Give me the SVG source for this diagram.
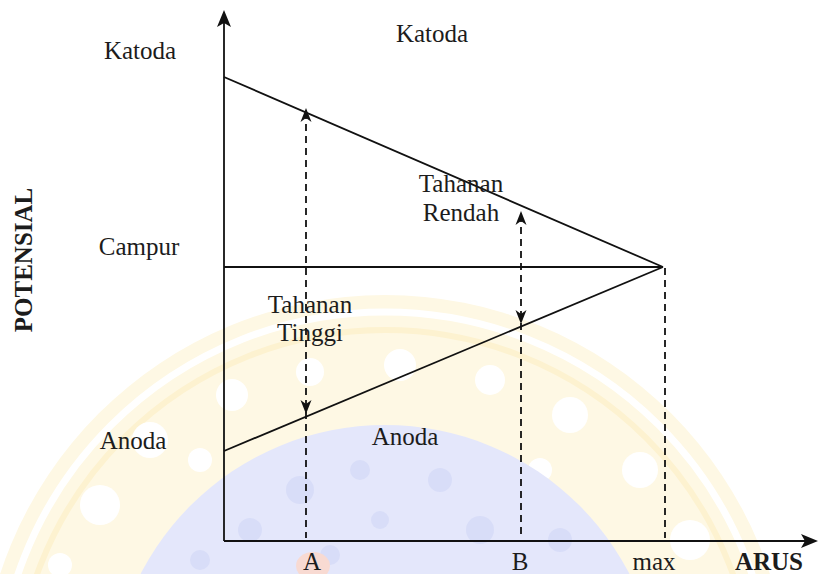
<svg xmlns="http://www.w3.org/2000/svg" width="820" height="574" viewBox="0 0 820 574">
<style>
.t{font-family:"Liberation Serif","Times New Roman",serif;font-size:25px;fill:#1c1c1c}
.b{font-weight:bold}
.ln{stroke:#111;stroke-width:1.8;fill:none}
.ds{stroke:#111;stroke-width:1.8;fill:none;stroke-dasharray:7 5}
.ah{fill:#111}
</style>
<defs>
<path id="ahd" d="M0,0 L-5.5,-14 L0,-10 L5.5,-14 Z"/>
<path id="axh" d="M0,0 L-7,-17 L0,-13 L7,-17 Z"/>
<clipPath id="clip"><rect width="820" height="574"/></clipPath>
</defs>
<rect width="820" height="574" fill="#fff"/>
<g id="watermark" clip-path="url(#clip)">
<circle cx="385" cy="700" r="405" fill="#fef8e4"/>
<circle cx="385" cy="700" r="388" fill="none" stroke="#fff" stroke-width="7"/>
<circle cx="385" cy="700" r="370" fill="none" stroke="#fdf2d0" stroke-width="6"/>
<g fill="#fff">
<circle cx="100" cy="505" r="20"/><circle cx="150" cy="440" r="18"/><circle cx="232" cy="395" r="16"/>
<circle cx="310" cy="372" r="14"/><circle cx="400" cy="365" r="16"/><circle cx="490" cy="380" r="15"/>
<circle cx="570" cy="415" r="18"/><circle cx="640" cy="470" r="18"/><circle cx="690" cy="540" r="20"/>
<circle cx="60" cy="565" r="12"/><circle cx="200" cy="460" r="12"/><circle cx="540" cy="470" r="12"/>
</g>
<circle cx="385" cy="700" r="275" fill="#e4e7fb"/>
<g fill="#d8ddf8">
<circle cx="300" cy="490" r="14"/><circle cx="360" cy="470" r="10"/><circle cx="440" cy="480" r="12"/>
<circle cx="250" cy="530" r="12"/><circle cx="480" cy="530" r="14"/><circle cx="380" cy="520" r="9"/>
<circle cx="560" cy="540" r="12"/><circle cx="200" cy="560" r="10"/><circle cx="330" cy="555" r="10"/>
</g>
<ellipse cx="313" cy="566" rx="17" ry="14" fill="#f8dad2"/>
</g>
<g id="connectors">
<path class="ln" d="M224,541 V16"/>
<use href="#axh" class="ah" transform="translate(224,10) rotate(180)"/>
<path class="ln" d="M224,541 H812"/>
<use href="#axh" class="ah" transform="translate(818,541) rotate(-90)"/>
<path class="ln" d="M224,77 L663,267"/>
<path class="ln" d="M224,267 H663"/>
<path class="ln" d="M224,451 L663,267"/>
<path class="ds" d="M306,112 V538"/>
<use href="#ahd" class="ah" transform="translate(306,108) rotate(180)"/>
<use href="#ahd" class="ah" transform="translate(306,414)"/>
<path class="ds" d="M521,215 V538"/>
<use href="#ahd" class="ah" transform="translate(521,211) rotate(180)"/>
<use href="#ahd" class="ah" transform="translate(521,324)"/>
<path class="ds" d="M665,268 V538"/>
</g>
<g id="labels">
<text class="t" x="140" y="59" text-anchor="middle">Katoda</text>
<text class="t" x="432" y="42" text-anchor="middle">Katoda</text>
<text class="t" x="139" y="255" text-anchor="middle">Campur</text>
<text class="t" x="133" y="449" text-anchor="middle">Anoda</text>
<text class="t" x="405" y="445" text-anchor="middle">Anoda</text>
<text class="t" x="310" y="313" text-anchor="middle">Tahanan</text>
<text class="t" x="310" y="341" text-anchor="middle">Tinggi</text>
<text class="t" x="461" y="192" text-anchor="middle">Tahanan</text>
<text class="t" x="461" y="221" text-anchor="middle">Rendah</text>
<text class="t b" transform="translate(32,260) rotate(-90)" text-anchor="middle">POTENSIAL</text>
<text class="t" x="312" y="570" text-anchor="middle">A</text>
<text class="t" x="520" y="570" text-anchor="middle">B</text>
<text class="t" x="654" y="570" text-anchor="middle">max</text>
<text class="t b" x="769" y="570" text-anchor="middle">ARUS</text>
</g>
</svg>
